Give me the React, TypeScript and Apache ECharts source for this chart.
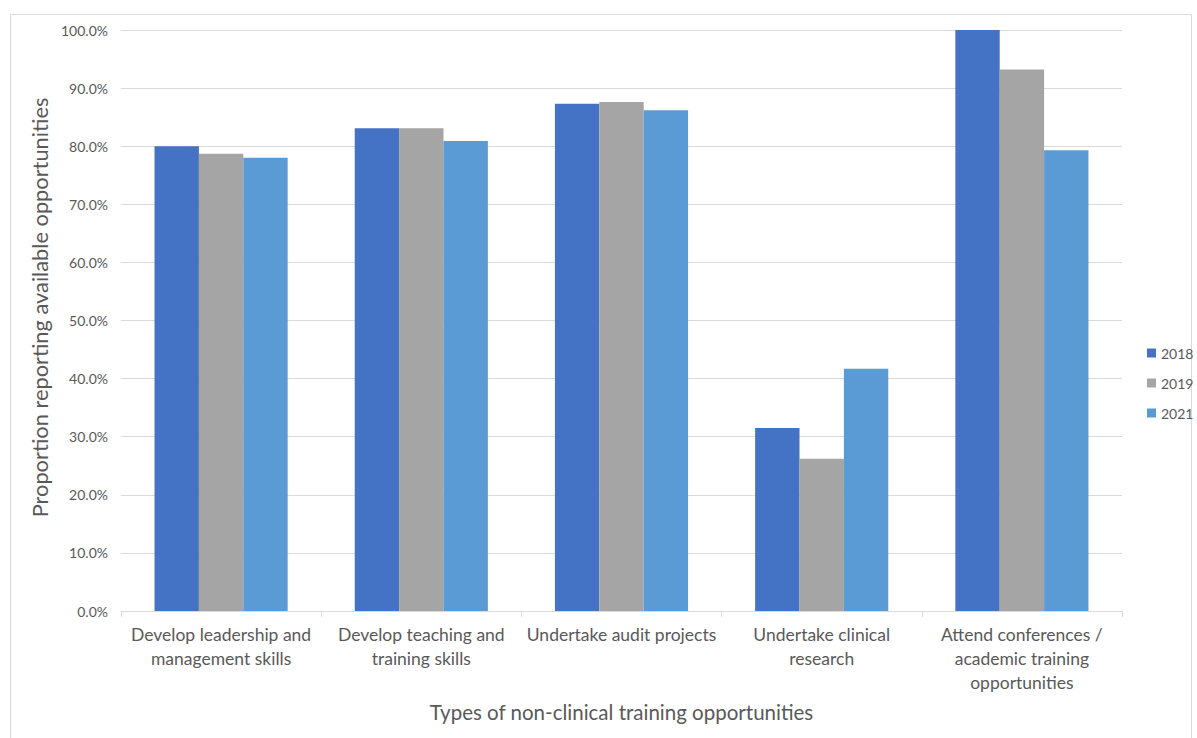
import React, { useEffect, useRef } from "react";
import * as echarts from "echarts";

const categories = [
  "Develop leadership and\nmanagement skills",
  "Develop teaching and\ntraining skills",
  "Undertake audit projects",
  "Undertake clinical\nresearch",
  "Attend conferences /\nacademic training\nopportunities",
];

const years = ["2018", "2019", "2021"];

const values2018 = [80.0, 83.1, 87.3, 31.5, 100.0];
const values2019 = [78.7, 83.1, 87.6, 26.2, 93.2];
const values2021 = [78.0, 80.9, 86.2, 41.7, 79.3];

const seriesColors = ["#4472C4", "#A5A5A5", "#5B9BD5"];

const yTicks = { min: 0, max: 100, interval: 10 };

const FONT = "Lato, 'Open Sans', 'Liberation Sans', sans-serif";
const TEXT_COLOR = "#595959";

export default function App() {
  const ref = useRef<HTMLDivElement>(null);

  useEffect(() => {
    if (!ref.current) return;
    const chart = echarts.init(ref.current, undefined, { renderer: "svg" });
    const seriesData = [values2018, values2019, values2021];

    chart.setOption({
      animation: false,
      backgroundColor: "#ffffff",
      textStyle: { fontFamily: FONT, color: TEXT_COLOR },
      graphic: [
        {
          type: "rect",
          left: 8,
          top: 12,
          shape: { width: 1181, height: 740 },
          style: { fill: "none", stroke: "#D9D9D9", lineWidth: 1 },
          silent: true,
        },
      ],
      grid: { left: 121, right: 75, top: 30, bottom: 127, containLabel: false },
      legend: {
        orient: "vertical",
        left: 1142,
        top: 341,
        itemWidth: 9,
        itemHeight: 9,
        itemGap: 16,
        icon: "rect",
        data: years,
        textStyle: { fontFamily: FONT, fontSize: 14, color: TEXT_COLOR, padding: [0, 0, 0, 0] },
      },
      xAxis: {
        type: "category",
        data: categories,
        name: "Types of non-clinical training opportunities",
        nameLocation: "middle",
        nameGap: 90,
        nameTextStyle: { fontFamily: FONT, fontSize: 20.5, color: TEXT_COLOR },
        axisLine: { show: true, lineStyle: { color: "#D9D9D9", width: 1 } },
        axisTick: { show: true, length: 6, lineStyle: { color: "#D9D9D9" } },
        axisLabel: {
          fontFamily: FONT,
          fontSize: 17.5,
          color: TEXT_COLOR,
          lineHeight: 24,
          margin: 11,
          interval: 0,
        },
      },
      yAxis: {
        type: "value",
        min: yTicks.min,
        max: yTicks.max,
        interval: yTicks.interval,
        name: "Proportion reporting available opportunities",
        nameLocation: "middle",
        nameGap: 69,
        nameTextStyle: {
          fontFamily: FONT,
          fontSize: 21.8,
          color: TEXT_COLOR,
          padding: [0, 0, 0, 26],
        },
        axisLine: { show: false },
        axisTick: { show: false },
        splitLine: { lineStyle: { color: "#D9D9D9", width: 1 } },
        axisLabel: {
          fontFamily: FONT,
          fontSize: 14,
          color: TEXT_COLOR,
          margin: 13,
          formatter: (v: number) => v.toFixed(1) + "%",
        },
      },
      series: years.map((y, i) => ({
        name: y,
        type: "bar",
        data: seriesData[i],
        barGap: "0%",
        barCategoryGap: "33.5%",
        itemStyle: { color: seriesColors[i] },
      })),
    });

    return () => chart.dispose();
  }, []);

  return (
    <div
      ref={ref}
      style={{ position: "fixed", left: 0, top: 0, width: 1197, height: 738, background: "#fff" }}
    />
  );
}
